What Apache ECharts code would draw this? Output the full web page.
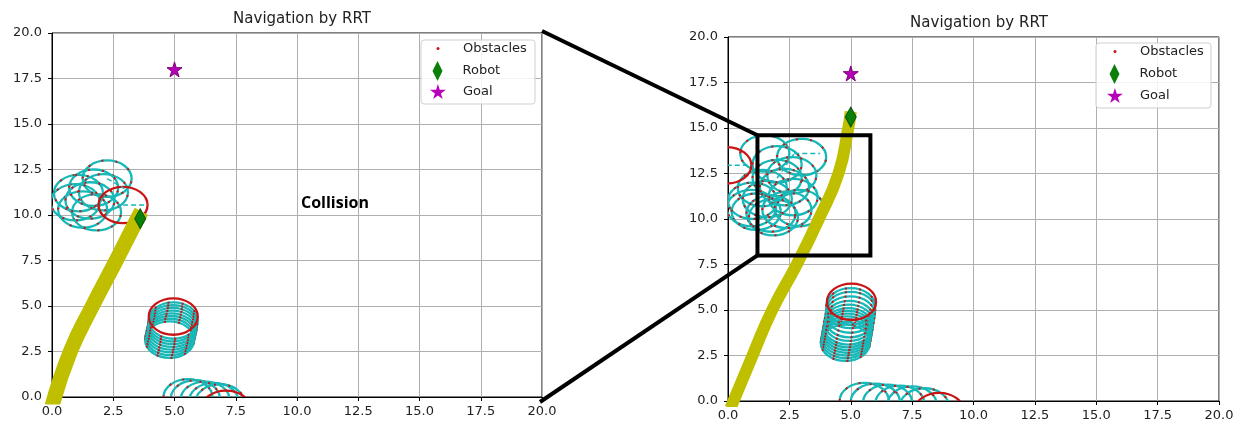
<!DOCTYPE html>
<html>
<head>
<meta charset="utf-8">
<title>Navigation by RRT</title>
<script src="https://cdn.jsdelivr.net/npm/echarts@6/dist/echarts.min.js"></script>
<style>
  html, body { margin: 0; padding: 0; background: #fff; }
  #chart { width: 1243px; height: 428px; }
</style>
</head>
<body>
<div id="chart"></div>
<script>
// axes (both panels)
var axisMin = 0;
var axisMax = 20;
var axisStep = 2.5;
var obstacleRadius = 1.0;

// left panel: collision
var leftPath = [[0.0, -0.5], [0.75, 2.5], [1.65, 5.0], [2.62, 7.5], [3.3, 9.3], [3.65, 10.2]];
var leftRobot = [[3.6, 9.8]];
var leftGoal = [[5.0, 18.0]];
var leftObstacles = [
  [2.25, 12.0], [1.08, 11.2], [1.25, 10.3], [1.55, 10.8], [2.1, 11.25], [1.82, 10.15], [0.95, 10.7], [1.7, 11.5],
  [4.8, 3.15], [4.82, 3.3], [4.85, 3.45], [4.87, 3.6], [4.9, 3.75], [4.92, 3.9], [4.93, 4.05], [4.95, 4.2],
  [5.55, -0.02], [5.85, -0.08], [6.25, -0.15], [6.6, -0.22], [6.85, -0.3]
];
var leftObstaclesNow = [[2.9, 10.55], [4.95, 4.42], [7.1, -0.65]];
var leftHeadings = [[2.9, 10.55, 3.9, 10.55], [2.25, 12.0, 2.95, 11.45]];
var collisionAt = [11.55, 10.66];

// right panel: zoomed view
var rightPath = [[0.1, -0.4], [1.0, 2.5], [1.8, 5.0], [2.8, 7.5], [3.7, 10.0], [4.5, 12.5], [4.9, 15.0], [5.0, 15.9]];
var rightRobot = [[5.0, 15.6]];
var rightGoal = [[5.0, 18.0]];
var rightObstacles = [
  [1.5, 13.6], [3.0, 13.4], [2.0, 12.25], [2.0, 13.0], [1.0, 11.0], [1.15, 10.4], [1.75, 10.3],
  [2.65, 11.2], [2.3, 11.75], [1.4, 11.7], [1.85, 10.1], [0.95, 10.6], [2.9, 10.6], [2.4, 10.5],
  [1.6, 11.1], [2.6, 12.4],
  [4.78, 3.2], [4.8, 3.35], [4.82, 3.5], [4.84, 3.65], [4.86, 3.8], [4.88, 3.95], [4.9, 4.1],
  [4.92, 4.3], [4.95, 4.5], [4.98, 4.75], [5.0, 5.0], [5.0, 5.2],
  [5.55, 0.0], [6.0, -0.05], [6.5, -0.1], [7.0, -0.15], [7.5, -0.2], [8.0, -0.3]
];
var rightObstaclesNow = [[-0.05, 12.95], [5.03, 5.45], [8.6, -0.55]];
var rightHeadings = [[-0.05, 12.95, 0.95, 12.95], [2.7, 13.6, 3.75, 13.6], [2.0, 12.25, 2.7, 13.6]];
var zoomBoxX = [1.2, 5.8];
var zoomBoxY = [8.0, 14.6];

var cyan = '#17b8b8';
var red = '#c81414';
var yellow = '#bfbf00';
var green = '#0a7f0a';
var magenta = '#b800b8';
var diamond = 'path://M5,0 L10,10 L5,20 L0,10 Z';
var star = 'path://M50,0 L61,35 L98,35 L68,57 L79,91 L50,70 L21,91 L32,57 L2,35 L39,35 Z';

var chart = echarts.init(document.getElementById('chart'));

function ringRender(stroke, dotted) {
  return function (params, api) {
    var c = api.coord([api.value(0), api.value(1)]);
    var s = api.size([obstacleRadius, obstacleRadius]);
    var shape = { cx: c[0], cy: c[1], rx: s[0], ry: s[1] };
    var kids = [{ type: 'ellipse', shape: shape, style: { fill: 'none', stroke: stroke, lineWidth: 2.3 } }];
    if (dotted) {
      kids.push({ type: 'ellipse', shape: shape, style: { fill: 'none', stroke: red, lineWidth: 2, lineDash: [2, 12] } });
    }
    return { type: 'group', children: kids };
  };
}

function headingRender(params, api) {
  var a = api.coord([api.value(0), api.value(1)]);
  var b = api.coord([api.value(2), api.value(3)]);
  return {
    type: 'line',
    shape: { x1: a[0], y1: a[1], x2: b[0], y2: b[1] },
    style: { stroke: cyan, lineWidth: 1.5, lineDash: [5, 3] }
  };
}

function panelSeries(i, path, pathWidth, robot, goal, obs, obsNow, heads) {
  return [
    {
      name: 'Obstacles', type: 'custom', xAxisIndex: i, yAxisIndex: i, clip: true,
      renderItem: ringRender(cyan, true), encode: { x: 0, y: 1 }, data: obs,
      itemStyle: { color: red }, z: 2, silent: true
    },
    {
      name: 'Obstacles', type: 'custom', xAxisIndex: i, yAxisIndex: i, clip: true,
      renderItem: ringRender(red, false), encode: { x: 0, y: 1 }, data: obsNow,
      itemStyle: { color: red }, z: 2, silent: true
    },
    {
      name: 'Heading', type: 'custom', xAxisIndex: i, yAxisIndex: i, clip: true,
      renderItem: headingRender, encode: { x: [0, 2], y: [1, 3] }, data: heads, z: 2, silent: true
    },
    {
      name: 'Path', type: 'line', xAxisIndex: i, yAxisIndex: i, data: path, smooth: 0.5,
      showSymbol: false, clip: true, silent: true, z: 3,
      lineStyle: { width: pathWidth, color: yellow, cap: 'butt', join: 'round' }, itemStyle: { color: yellow }
    },
    {
      name: 'Robot', type: 'scatter', xAxisIndex: i, yAxisIndex: i, data: robot,
      symbol: diamond, symbolSize: [11, 20], z: 4,
      itemStyle: { color: green, borderColor: '#055005', borderWidth: 1, opacity: 1 }
    },
    {
      name: 'Goal', type: 'scatter', xAxisIndex: i, yAxisIndex: i, data: goal,
      symbol: star, symbolSize: 15, z: 4,
      itemStyle: { color: magenta, borderColor: '#7a007a', borderWidth: 1, opacity: 1 }
    }
  ];
}

function legendRow(name, icon, w, h, color, iconCx, textX, rowY) {
  return {
    data: [{ name: name, icon: icon, itemStyle: { color: color, borderWidth: 0 } }],
    orient: 'vertical',
    left: iconCx - w / 2,
    top: rowY - Math.max(h, 16) / 2,
    padding: 0,
    itemWidth: w,
    itemHeight: h,
    selectedMode: false,
    textStyle: {
      fontFamily: 'DejaVu Sans', fontSize: 13, color: '#222',
      padding: [0, 0, 0, textX - (iconCx + w / 2 + 5)]
    }
  };
}

function legendSet(iconCx, textX, rows) {
  return [
    legendRow('Obstacles', 'circle', 3, 3, red, iconCx, textX, rows[0]),
    legendRow('Robot', diamond, 11, 20, green, iconCx, textX, rows[1]),
    legendRow('Goal', star, 16, 15, magenta, iconCx, textX, rows[2])
  ];
}

function makeAxis(i, isX) {
  return {
    type: 'value', gridIndex: i, min: axisMin, max: axisMax, interval: axisStep,
    axisLine: { show: true, onZero: false, lineStyle: { color: '#000', width: 1 } },
    axisTick: { show: true, length: 4, lineStyle: { color: '#000' } },
    axisLabel: {
      fontFamily: 'DejaVu Sans', fontSize: 13, color: '#222', margin: isX ? 8 : 10,
      showMinLabel: true, showMaxLabel: true,
      formatter: function (v) { return v.toFixed(1); }
    },
    splitLine: { show: true, lineStyle: { color: '#b0b0b0', width: 1 } }
  };
}

var option = {
  animation: false,
  backgroundColor: '#fff',
  title: [
    { text: 'Navigation by RRT', left: 297, top: 7, textAlign: 'center',
      textStyle: { fontFamily: 'DejaVu Sans', fontSize: 15, fontWeight: 'normal', color: '#222' } },
    { text: 'Navigation by RRT', left: 974, top: 11, textAlign: 'center',
      textStyle: { fontFamily: 'DejaVu Sans', fontSize: 15, fontWeight: 'normal', color: '#222' } }
  ],
  grid: [
    { left: 52, top: 33, width: 490, height: 364, show: true, borderColor: '#000', borderWidth: 1 },
    { left: 728, top: 37, width: 491, height: 364, show: true, borderColor: '#000', borderWidth: 1 }
  ],
  xAxis: [makeAxis(0, true), makeAxis(1, true)],
  yAxis: [makeAxis(0, false), makeAxis(1, false)],
  legend: legendSet(438, 463, [50, 71, 92]).concat(legendSet(1115, 1140, [53, 74, 96])),
  series: panelSeries(0, leftPath, 15, leftRobot, leftGoal, leftObstacles, leftObstaclesNow, leftHeadings)
    .concat(panelSeries(1, rightPath, 12, rightRobot, rightGoal, rightObstacles, rightObstaclesNow, rightHeadings))
};

chart.setOption(option);

// overlay: legend frames, zoom box, connector lines, collision note
var px = function (g, pt) { return chart.convertToPixel({ gridIndex: g }, pt); };
var boxTL = px(1, [zoomBoxX[0], zoomBoxY[1]]);
var boxBR = px(1, [zoomBoxX[1], zoomBoxY[0]]);
var leftTR = px(0, [axisMax, axisMax]);
var leftBR = px(0, [axisMax, axisMin]);
var coll = px(0, collisionAt);

chart.setOption({
  graphic: [
    { type: 'rect', z: 3, shape: { x: 421, y: 40, width: 114, height: 64, r: 3 },
      style: { fill: 'rgba(255,255,255,0.85)', stroke: '#cfcfcf', lineWidth: 1 } },
    { type: 'rect', z: 3, shape: { x: 1096, y: 43, width: 115, height: 65, r: 3 },
      style: { fill: 'rgba(255,255,255,0.85)', stroke: '#cfcfcf', lineWidth: 1 } },
    { type: 'rect', z: 10, shape: { x: boxTL[0], y: boxTL[1], width: boxBR[0] - boxTL[0], height: boxBR[1] - boxTL[1] },
      style: { fill: 'none', stroke: '#000', lineWidth: 4 } },
    { type: 'line', z: 10, shape: { x1: leftTR[0], y1: leftTR[1] - 2, x2: boxTL[0], y2: boxTL[1] },
      style: { stroke: '#000', lineWidth: 4 } },
    { type: 'line', z: 10, shape: { x1: leftBR[0] - 2, y1: leftBR[1] + 5, x2: boxTL[0], y2: boxBR[1] },
      style: { stroke: '#000', lineWidth: 4 } },
    { type: 'text', z: 10, x: coll[0], y: coll[1],
      style: { text: 'Collision', font: 'bold 16px "Open Sans"', fill: '#000', align: 'center', verticalAlign: 'middle' } }
  ]
});
</script>
</body>
</html>
